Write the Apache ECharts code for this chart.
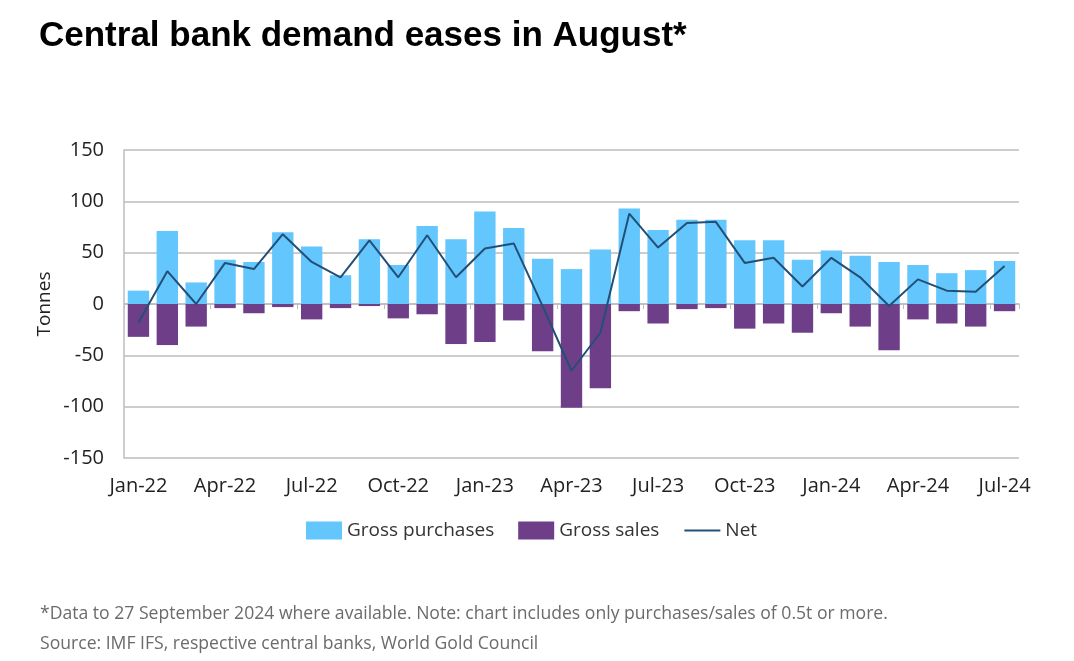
<!DOCTYPE html>
<html>
<head>
<meta charset="utf-8">
<style>
  html, body { margin: 0; padding: 0; background: #fff; }
  #chart { width: 1074px; height: 661px; }
</style>
<script src="https://cdn.jsdelivr.net/npm/echarts@6/dist/echarts.min.js"></script>
</head>
<body>
<div id="chart"></div>
<script>
// 月份
var months = ['Jan-22', 'Feb-22', 'Mar-22', 'Apr-22', 'May-22', 'Jun-22', 'Jul-22', 'Aug-22', 'Sep-22', 'Oct-22',
  'Nov-22', 'Dec-22', 'Jan-23', 'Feb-23', 'Mar-23', 'Apr-23', 'May-23', 'Jun-23', 'Jul-23', 'Aug-23',
  'Sep-23', 'Oct-23', 'Nov-23', 'Dec-23', 'Jan-24', 'Feb-24', 'Mar-24', 'Apr-24', 'May-24', 'Jun-24', 'Jul-24']
// 买入 / 卖出 / 净值 (tonnes)
var purchases = [13, 71, 21, 43, 41, 70, 56, 28, 63, 38, 76, 63, 90, 74, 44, 34, 53, 93, 72, 82,
  82, 62, 62, 43, 52, 47, 41, 38, 30, 33, 42]
var sales = [-32, -40, -22, -4, -9, -3, -15, -4, -2, -14, -10, -39, -37, -16, -46, -101, -82, -7, -19, -5,
  -4, -24, -19, -28, -9, -22, -45, -15, -19, -22, -7]
var net = [-18, 32, 0, 40, 34, 68, 41, 26, 62, 26, 67, 26, 54, 59, -2, -65, -28, 88, 55, 79,
  80, 40, 45, 17, 45, 26, -2, 24, 13, 12, 37]

var font = '"Open Sans", "Noto Sans", sans-serif'
var chart = echarts.init(document.getElementById('chart'))

var option = {
  animation: false,
  title: [
    {
      text: 'Central bank demand eases in August*',
      left: 34,
      top: 14,
      textStyle: { fontFamily: '"Liberation Sans", Arial, sans-serif', fontSize: 35, fontWeight: 'bold', color: '#000' }
    },
    {
      text: '*Data to 27 September 2024 where available. Note: chart includes only purchases/sales of 0.5t or more.',
      left: 35,
      top: 600,
      textStyle: { fontFamily: font, fontSize: 17.6, fontWeight: 'normal', color: '#6b6b6b' }
    },
    {
      text: 'Source: IMF IFS, respective central banks, World Gold Council',
      left: 35,
      top: 630,
      textStyle: { fontFamily: font, fontSize: 17.6, fontWeight: 'normal', color: '#6b6b6b' }
    }
  ],
  legend: {
    top: 516,
    left: 301,
    itemWidth: 36,
    itemHeight: 18,
    itemGap: 24,
    textStyle: { fontFamily: font, fontSize: 19, color: '#333' },
    data: [
      { name: 'Gross purchases', icon: 'rect' },
      { name: 'Gross sales', icon: 'rect' },
      { name: 'Net', itemStyle: { opacity: 0 } }
    ]
  },
  grid: { left: 124, right: 55, top: 150, bottom: 203 },
  xAxis: [
    {
      type: 'category',
      data: months,
      axisLine: { show: false, onZero: false },
      axisTick: { show: false },
      axisLabel: { interval: 2, fontFamily: font, fontSize: 20, color: '#222', margin: 18 }
    },
    {
      type: 'category',
      data: months,
      position: 'bottom',
      axisLine: { show: true, onZero: true, lineStyle: { color: '#bdbdbd', width: 1.5 } },
      axisTick: { show: true, interval: 2, length: 5, lineStyle: { color: '#bdbdbd' } },
      axisLabel: { show: false }
    }
  ],
  yAxis: {
    type: 'value',
    min: -150,
    max: 150,
    interval: 50,
    name: 'Tonnes',
    nameLocation: 'middle',
    nameGap: 70,
    nameMoveOverlap: false,
    nameTextStyle: { fontFamily: font, fontSize: 19, color: '#222' },
    axisLine: { show: true, lineStyle: { color: '#bdbdbd', width: 1.5 } },
    axisTick: { show: false },
    axisLabel: { fontFamily: font, fontSize: 20, color: '#222', margin: 20 },
    splitLine: { lineStyle: { color: '#bdbdbd', width: 1.5 } }
  },
  series: [
    {
      name: 'Gross purchases',
      type: 'bar',
      stack: 'gold',
      barWidth: '74%',
      itemStyle: { color: '#63c6fc' },
      data: purchases
    },
    {
      name: 'Gross sales',
      type: 'bar',
      stack: 'gold',
      barWidth: '74%',
      itemStyle: { color: '#6e3f88' },
      data: sales
    },
    {
      name: 'Net',
      type: 'line',
      symbol: 'none',
      lineStyle: { color: '#234f77', width: 2 },
      itemStyle: { color: '#234f77' },
      z: 5,
      data: net
    }
  ]
}

chart.setOption(option)
</script>
</body>
</html>
